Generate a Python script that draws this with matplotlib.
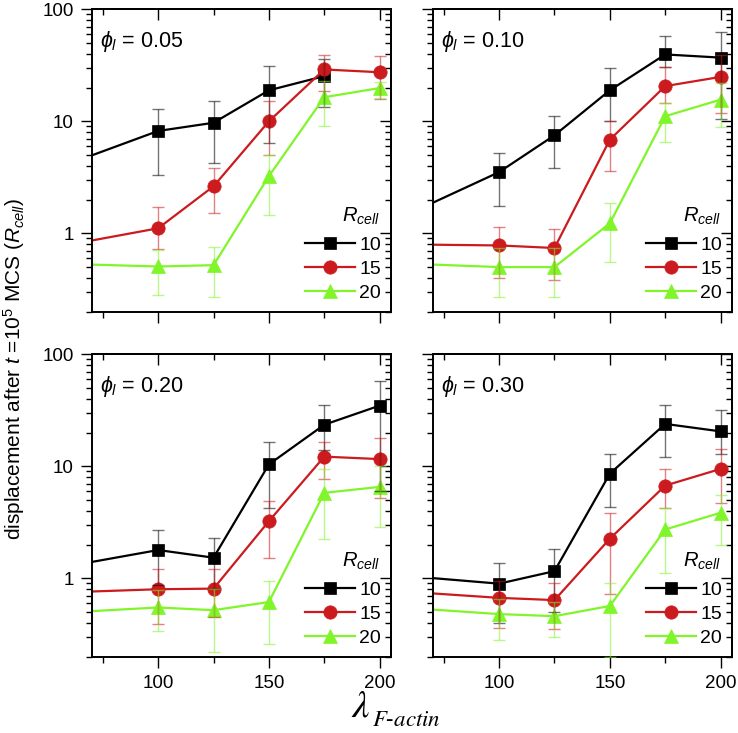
import numpy as np
import matplotlib
matplotlib.use("Agg")
import matplotlib.pyplot as plt
from matplotlib.ticker import MultipleLocator, LogLocator, NullFormatter

plt.rcParams['font.family'] = ['Liberation Sans', 'DejaVu Sans']
plt.rcParams['mathtext.fontset'] = 'custom'
plt.rcParams['mathtext.rm'] = 'Liberation Sans'
plt.rcParams['mathtext.it'] = 'Liberation Sans:italic'
plt.rcParams['mathtext.bf'] = 'Liberation Sans:bold'

nan = np.nan

# lambda_F-actin values (first point lies left of the visible range)
lam = [50, 100, 125, 150, 175, 200]
radii = ['10', '15', '20']
phis = ['0.05', '0.10', '0.20', '0.30']

# phi = 0.05
p05_r10 = [3.55, 8.2, 9.7, 18.9, 25.3, nan]
p05_r10_lo = [nan, 3.33, 4.27, 6.45, 13.4, nan]
p05_r10_hi = [nan, 13.0, 15.2, 31.3, 36.0, nan]
p05_r15 = [0.73, 1.11, 2.63, 10.0, 29.0, 27.4]
p05_r15_lo = [nan, 0.72, 1.51, 4.96, 18.5, 15.8]
p05_r15_hi = [nan, 1.71, 3.82, 15.2, 39.0, 38.5]
p05_r20 = [0.54, 0.506, 0.52, 3.24, 16.4, 19.8]
p05_r20_lo = [nan, 0.28, 0.27, 1.47, 9.1, 16.3]
p05_r20_hi = [nan, 0.71, 0.76, 4.96, 23.0, 22.2]

# phi = 0.10
p10_r10 = [1.23, 3.52, 7.5, 18.9, 39.5, 37.0]
p10_r10_lo = [nan, 1.77, 3.85, 10.0, 30.6, 10.4]
p10_r10_hi = [nan, 5.24, 11.2, 30.2, 57.7, 63.0]
p10_r15 = [0.80, 0.78, 0.74, 6.86, 20.6, 24.9]
p10_r15_lo = [nan, 0.40, 0.38, 3.57, 14.7, 11.9]
p10_r15_hi = [nan, 1.15, 1.09, 10.1, 30.6, 39.0]
p10_r20 = [0.545, 0.50, 0.50, 1.23, 11.1, 15.6]
p10_r20_lo = [nan, 0.27, 0.27, 0.55, 6.5, 8.9]
p10_r20_hi = [nan, 0.74, 0.74, 1.86, 14.7, 21.8]

# phi = 0.20
p20_r10 = [1.19, 1.79, 1.53, 10.4, 23.5, 34.8]
p20_r10_lo = [nan, 0.87, 0.80, 4.26, 14.0, 6.0]
p20_r10_hi = [nan, 2.69, 2.30, 16.5, 35.4, 58.0]
p20_r15 = [0.74, 0.80, 0.81, 3.24, 12.2, 11.6]
p20_r15_lo = [nan, 0.395, 0.45, 1.53, 7.7, 5.2]
p20_r15_hi = [nan, 1.20, 1.20, 4.88, 16.6, 17.9]
p20_r20 = [0.485, 0.55, 0.52, 0.615, 5.8, 6.55]
p20_r20_lo = [nan, 0.34, 0.22, 0.26, 2.26, 2.86]
p20_r20_hi = [nan, 0.78, 0.80, 0.945, 9.5, 10.1]

# phi = 0.30
p30_r10 = [1.085, 0.897, 1.16, 8.6, 23.9, 20.5]
p30_r10_lo = [nan, 0.40, 0.50, 4.35, 12.0, 13.0]
p30_r10_hi = [nan, 1.36, 1.81, 12.9, 35.4, 32.0]
p30_r15 = [0.78, 0.67, 0.64, 2.26, 6.73, 9.48]
p30_r15_lo = [nan, 0.36, 0.35, 0.72, 4.26, 4.72]
p30_r15_hi = [nan, 0.95, 0.90, 3.85, 9.37, 14.4]
p30_r20 = [0.56, 0.48, 0.46, 0.567, 2.73, 3.85]
p30_r20_lo = [nan, 0.28, 0.30, 0.20, 1.11, 2.0]
p30_r20_hi = [nan, 0.66, 0.62, 0.90, 4.26, 5.6]

panels = [
    [(p05_r10, p05_r10_lo, p05_r10_hi), (p05_r15, p05_r15_lo, p05_r15_hi), (p05_r20, p05_r20_lo, p05_r20_hi)],
    [(p10_r10, p10_r10_lo, p10_r10_hi), (p10_r15, p10_r15_lo, p10_r15_hi), (p10_r20, p10_r20_lo, p10_r20_hi)],
    [(p20_r10, p20_r10_lo, p20_r10_hi), (p20_r15, p20_r15_lo, p20_r15_hi), (p20_r20, p20_r20_lo, p20_r20_hi)],
    [(p30_r10, p30_r10_lo, p30_r10_hi), (p30_r15, p30_r15_lo, p30_r15_hi), (p30_r20, p30_r20_lo, p30_r20_hi)],
]

colors = ['#000000', '#cc1b1e', '#80f52a']
markers = ['s', 'o', '^']
msizes = [8.5, 9.6, 10.5]

fig = plt.figure(figsize=(7.38, 7.33), dpi=100)

# axes positions [left, bottom, width, height]
pos = [
    [0.1243, 0.5748, 0.4051, 0.4126],
    [0.5863, 0.5748, 0.4051, 0.4126],
    [0.1243, 0.1041, 0.4051, 0.4126],
    [0.5863, 0.1041, 0.4051, 0.4126],
]

for i in range(4):
    ax = fig.add_axes(pos[i])
    ax.set_yscale('log')
    handles = []
    for j in range(3):
        y, lo, hi = panels[i][j]
        y = np.array(y)
        err = [y - np.array(lo), np.array(hi) - y]
        ln, = ax.plot(lam, y, color=colors[j], marker=markers[j], ms=msizes[j],
                      mec=colors[j], mew=0.5, lw=1.6, zorder=2 + j * 0.1)
        ax.errorbar(lam, y, yerr=err, fmt='none', ecolor=colors[j], alpha=0.55,
                    elinewidth=1.0, capsize=4.5, capthick=1.0, zorder=3)
        handles.append(ln)

    ax.set_xlim(70, 205)
    ax.set_ylim(0.2, 100)
    ax.xaxis.set_major_locator(MultipleLocator(50))
    ax.xaxis.set_minor_locator(MultipleLocator(25))
    ax.set_yticks([1, 10, 100])
    ax.yaxis.set_minor_locator(LogLocator(base=10, subs=np.arange(2, 10)))
    ax.yaxis.set_minor_formatter(NullFormatter())
    if i % 2 == 0:
        ax.set_yticklabels(['1', '10', '100'])
    else:
        ax.set_yticklabels([])
    if i >= 2:
        ax.set_xticks([100, 150, 200])
        ax.set_xticklabels(['100', '150', '200'])
    else:
        ax.set_xticklabels([])
    ax.tick_params(which='major', direction='out', length=8, width=1.0, labelsize=13.5, pad=5)
    ax.tick_params(which='minor', direction='out', length=4.5, width=1.0)
    for s in ax.spines.values():
        s.set_linewidth(1.4)

    # mirrored ticks pointing inward on top and right
    top = ax.secondary_xaxis('top')
    top.xaxis.set_major_locator(MultipleLocator(50))
    top.xaxis.set_minor_locator(MultipleLocator(25))
    top.tick_params(which='major', direction='in', length=8, width=1.0, labeltop=False)
    top.tick_params(which='minor', direction='in', length=4.5, width=1.0)
    top.spines['top'].set_linewidth(1.4)
    right = ax.secondary_yaxis('right')
    right.set_yticks([1, 10, 100])
    right.yaxis.set_minor_locator(LogLocator(base=10, subs=np.arange(2, 10)))
    right.yaxis.set_minor_formatter(NullFormatter())
    right.tick_params(which='major', direction='in', length=8, width=1.0, labelright=False)
    right.tick_params(which='minor', direction='in', length=4.5, width=1.0)
    right.spines['right'].set_linewidth(1.4)

    ax.text(0.028, 0.876, r'$\phi_l$ = ' + phis[i], transform=ax.transAxes,
            fontsize=15.5, va='baseline', ha='left')

    ax.legend(handles, radii, loc='lower right', frameon=False, fontsize=14,
              handlelength=2.6, handletextpad=0.2, labelspacing=0.33,
              borderaxespad=0.3, borderpad=0.2)
    ax.text(0.963, 0.297, r'$R_{cell}$', transform=ax.transAxes,
            fontsize=14.5, ha='right', va='baseline')

fig.text(0.019, 0.497, r'displacement after $t$ =10$^5$ MCS ($R_{cell}$)',
         rotation=90, va='center', ha='center', fontsize=15)
fig.text(0.476, 0.022, r'$\lambda$', ha='left', va='baseline',
         fontsize=28, math_fontfamily='stix')
fig.text(0.504, 0.0095, r'$F\text{-}actin$', ha='left', va='baseline',
         fontsize=16.5, math_fontfamily='stix')

fig.savefig('out.png', dpi=100)
